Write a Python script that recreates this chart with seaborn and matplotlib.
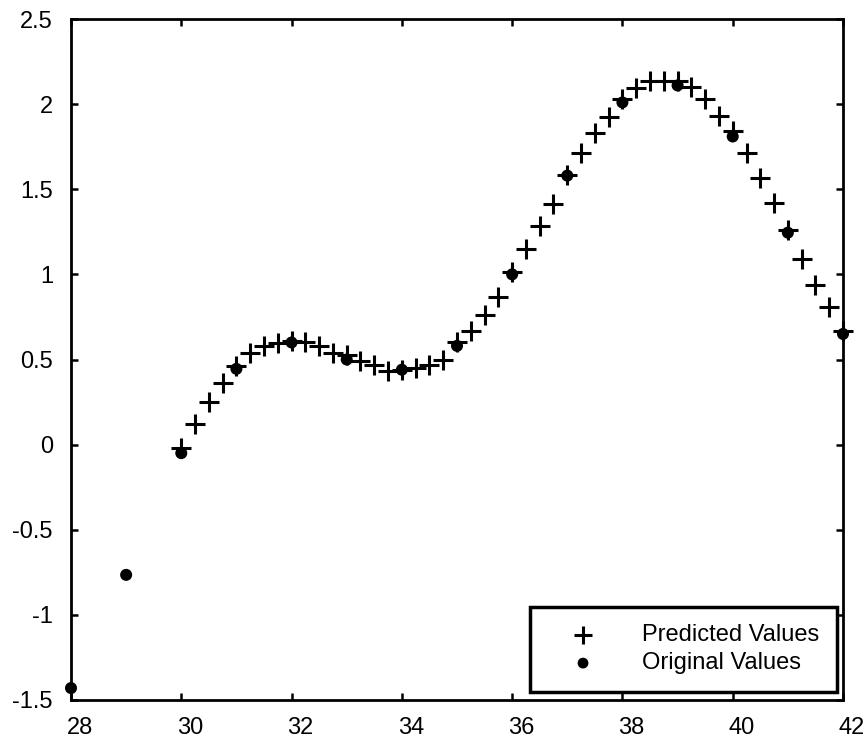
import matplotlib
matplotlib.use("Agg")
import matplotlib.pyplot as plt
import matplotlib.transforms as mtransforms
import seaborn as sns
import pandas as pd

# ---- data ----
orig_x = [28, 29, 30, 31, 32, 33, 34, 35, 36, 37, 38, 39, 40, 41, 42]
orig_y = [-1.43, -0.765, -0.05, 0.445, 0.60, 0.50, 0.44, 0.58, 1.00, 1.58,
          2.01, 2.11, 1.81, 1.245, 0.65]

pred_x = [30.0, 30.25, 30.5, 30.75, 31.0, 31.25, 31.5, 31.75, 32.0, 32.25,
          32.5, 32.75, 33.0, 33.25, 33.5, 33.75, 34.0, 34.25, 34.5, 34.75,
          35.0, 35.25, 35.5, 35.75, 36.0, 36.25, 36.5, 36.75, 37.0, 37.25,
          37.5, 37.75, 38.0, 38.25, 38.5, 38.75, 39.0, 39.25, 39.5, 39.75,
          40.0, 40.25, 40.5, 40.75, 41.0, 41.25, 41.5, 41.75, 42.0]
pred_y = [-0.02, 0.12, 0.25, 0.36, 0.46, 0.54, 0.58, 0.595, 0.61, 0.605,
          0.58, 0.54, 0.525, 0.49, 0.47, 0.435, 0.44, 0.45, 0.47, 0.50,
          0.60, 0.67, 0.76, 0.866, 1.016, 1.148, 1.285, 1.414, 1.584, 1.711,
          1.829, 1.926, 2.028, 2.093, 2.138, 2.138, 2.138, 2.10, 2.028, 1.93,
          1.84, 1.715, 1.568, 1.418, 1.26, 1.09, 0.938, 0.807, 0.67]

xticks = [28, 30, 32, 34, 36, 38, 40, 42]
xtick_labels = ["28", "30", "32", "34", "36", "38", "40", "42"]
yticks = [-1.5, -1, -0.5, 0, 0.5, 1, 1.5, 2, 2.5]
ytick_labels = ["-1.5", "-1", "-0.5", "0", "0.5", "1", "1.5", "2", "2.5"]

sns.set_theme(style="white")
plt.rcParams["font.family"] = ["Liberation Sans", "DejaVu Sans"]
plt.rcParams["axes.unicode_minus"] = False
plt.rcParams["text.color"] = "black"
plt.rcParams["xtick.color"] = "black"
plt.rcParams["ytick.color"] = "black"

pred_df = pd.DataFrame({"x": pred_x, "y": pred_y})
orig_df = pd.DataFrame({"x": orig_x, "y": orig_y})

fig = plt.figure(figsize=(8.67, 7.40), dpi=100)
ax = fig.add_axes([71 / 867, 1 - 700 / 740, (843 - 71) / 867, (700 - 19) / 740])

sns.scatterplot(data=pred_df, x="x", y="y", ax=ax, marker="+", s=190,
                color="black", linewidth=2.2, label="Predicted Values",
                clip_on=False, zorder=3)
sns.scatterplot(data=orig_df, x="x", y="y", ax=ax, marker="o", s=75,
                color="black", edgecolor="none", label="Original Values",
                clip_on=False, zorder=4)

ax.set_xlim(28, 42)
ax.set_ylim(-1.5, 2.5)
ax.set_xticks(xticks)
ax.set_xticklabels(xtick_labels)
ax.set_yticks(yticks)
ax.set_yticklabels(ytick_labels)
ax.set_xlabel("")
ax.set_ylabel("")

for sp in ax.spines.values():
    sp.set_visible(True)
    sp.set_color("black")
    sp.set_linewidth(2.0)

ax.tick_params(axis="both", which="major", direction="in", length=5,
               width=1.8, colors="black", labelcolor="black", labelsize=17,
               top=True, right=True, bottom=True, left=True)
ax.tick_params(axis="y", pad=13)
ax.tick_params(axis="x", pad=12)

# x tick labels sit slightly to the right of their ticks in the reference
offset = mtransforms.ScaledTranslation(9 / 100, 0, fig.dpi_scale_trans)
for lbl in ax.get_xticklabels():
    lbl.set_transform(lbl.get_transform() + offset)

leg = ax.legend(loc="lower right",
                bbox_to_anchor=((837 - 71) / (843 - 71), (700 - 692) / (700 - 19)),
                fontsize=17, frameon=True, fancybox=False, framealpha=1,
                edgecolor="black", borderpad=0.75, handlelength=3.0,
                handletextpad=1.0, labelspacing=0.25, borderaxespad=0.0,
                markerscale=0.9)
leg.get_frame().set_linewidth(2.5)
for t in leg.get_texts():
    t.set_color("black")

fig.savefig("out.png", dpi=100)
